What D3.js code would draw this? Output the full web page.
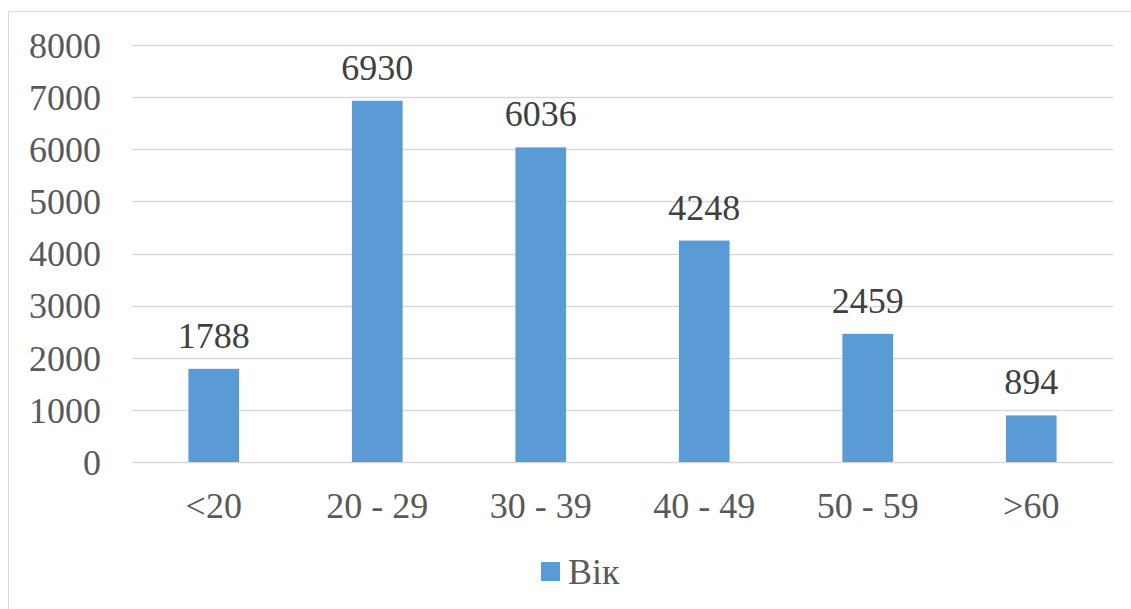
<!DOCTYPE html>
<html>
<head>
<meta charset="utf-8">
<script src="https://cdn.jsdelivr.net/npm/d3@7"></script>
<style>
  html, body { margin: 0; padding: 0; background: #fff; }
  svg { display: block; }
  svg text { font-family: "Liberation Serif", "Times New Roman", serif !important; }
</style>
</head>
<body>
<svg id="chart" width="1131" height="609"></svg>
<script>
// Age groups and counts
const categories = ["<20", "20 - 29", "30 - 39", "40 - 49", "50 - 59", ">60"];
const values = [1788, 6930, 6036, 4248, 2459, 894];
const yTicks = [0, 1000, 2000, 3000, 4000, 5000, 6000, 7000, 8000];
const seriesName = "Вік";

const W = 1131, H = 609;
const plot = { left: 132, right: 1113, top: 45, bottom: 462 };
const barColor = "#5b9bd5";
const gridColor = "#d9d9d9";

const svg = d3.select("#chart");

// Chart area border
svg.append("rect")
  .attr("x", 8.5).attr("y", 11.5)
  .attr("width", W + 20).attr("height", H + 20)
  .attr("fill", "#fff")
  .attr("stroke", gridColor).attr("stroke-width", 1);

const x = d3.scaleBand()
  .domain(categories)
  .range([plot.left, plot.right])
  .paddingInner(0.69)
  .paddingOuter(0.345);

const y = d3.scaleLinear()
  .domain([0, 8000])
  .range([plot.bottom, plot.top]);

// Horizontal gridlines
svg.append("g")
  .selectAll("line")
  .data(yTicks)
  .join("line")
  .attr("x1", plot.left).attr("x2", plot.right)
  .attr("y1", d => Math.round(y(d)) + 0.5)
  .attr("y2", d => Math.round(y(d)) + 0.5)
  .attr("stroke", gridColor).attr("stroke-width", 1.3);

// Y axis labels
const yAxis = d3.axisLeft(y).tickValues(yTicks).tickFormat(d3.format("d"))
  .tickSize(0).tickPadding(0);
const yg = svg.append("g")
  .attr("transform", `translate(${101},0)`)
  .call(yAxis);
yg.select(".domain").remove();
yg.selectAll("text")
  .attr("font-size", 36)
  .attr("fill", "#595959")
  .attr("dy", "0.34em");

// Bars
svg.append("g")
  .selectAll("rect")
  .data(values)
  .join("rect")
  .attr("x", (d, i) => x(categories[i]))
  .attr("width", x.bandwidth())
  .attr("y", d => y(d))
  .attr("height", d => y(0) - y(d))
  .attr("fill", barColor);

// Value labels
svg.append("g")
  .selectAll("text")
  .data(values)
  .join("text")
  .attr("x", (d, i) => x(categories[i]) + x.bandwidth() / 2)
  .attr("y", d => y(d) - 21)
  .attr("text-anchor", "middle")
  .attr("font-size", 36)
  .attr("fill", "#404040")
  .text(d => d);

// Category labels
const xAxis = d3.axisBottom(x).tickSize(0).tickPadding(0);
const xg = svg.append("g")
  .attr("transform", `translate(0,${plot.bottom})`)
  .call(xAxis);
xg.select(".domain").remove();
xg.selectAll("text")
  .attr("font-size", 36)
  .attr("fill", "#595959")
  .attr("dy", null)
  .attr("y", 56);

// Legend
const legend = svg.append("g");
legend.append("rect")
  .attr("x", 541).attr("y", 562)
  .attr("width", 19).attr("height", 19)
  .attr("fill", barColor);
legend.append("text")
  .attr("x", 568).attr("y", 584)
  .attr("font-size", 36)
  .attr("fill", "#595959")
  .text(seriesName);
</script>
</body>
</html>
